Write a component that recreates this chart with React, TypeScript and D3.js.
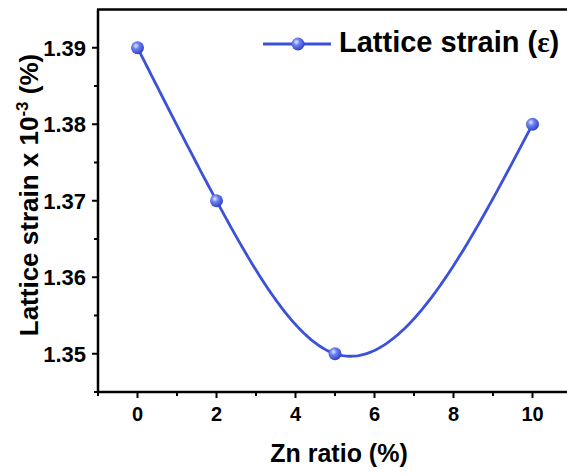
import React from "react";
import * as d3 from "d3";

const znRatio = [0, 2, 5, 10];
const strain = [1.39, 1.37, 1.35, 1.38];
const xTicks = [0, 2, 4, 6, 8, 10];
const yTicks = [1.35, 1.36, 1.37, 1.38, 1.39];
const seriesName = "Lattice strain (";

function naturalSpline(xs: number[], ys: number[]) {
  const n = xs.length;
  const h = xs.slice(1).map((x, i) => x - xs[i]);
  const a = new Array(n).fill(0), b = new Array(n).fill(0), c = new Array(n).fill(0), r = new Array(n).fill(0);
  b[0] = 1; b[n - 1] = 1;
  for (let i = 1; i < n - 1; i++) {
    a[i] = h[i - 1];
    b[i] = 2 * (h[i - 1] + h[i]);
    c[i] = h[i];
    r[i] = 6 * ((ys[i + 1] - ys[i]) / h[i] - (ys[i] - ys[i - 1]) / h[i - 1]);
  }
  const cp = new Array(n).fill(0), rp = new Array(n).fill(0);
  cp[0] = c[0] / b[0]; rp[0] = r[0] / b[0];
  for (let i = 1; i < n; i++) {
    const m = b[i] - a[i] * cp[i - 1];
    cp[i] = c[i] / m;
    rp[i] = (r[i] - a[i] * rp[i - 1]) / m;
  }
  const M = new Array(n).fill(0);
  M[n - 1] = rp[n - 1];
  for (let i = n - 2; i >= 0; i--) M[i] = rp[i] - cp[i] * M[i + 1];
  return (x: number) => {
    let i = 0;
    while (i < n - 2 && x > xs[i + 1]) i++;
    const hi = h[i];
    const t1 = xs[i + 1] - x, t2 = x - xs[i];
    return (M[i] * t1 ** 3 + M[i + 1] * t2 ** 3) / (6 * hi) +
      (ys[i] / hi - M[i] * hi / 6) * t1 + (ys[i + 1] / hi - M[i + 1] * hi / 6) * t2;
  };
}

export default function App() {
  const W = 567, H = 476;
  const left = 98, right = 572, top = 9.5, bottom = 392;
  const x = d3.scaleLinear().domain([-1, 11]).range([left, right]);
  const y = d3.scaleLinear().domain([1.345, 1.395]).range([bottom, top]);
  const f = naturalSpline(znRatio, strain);
  const samples = d3.range(0, 10.0001, 0.05).map((v) => [v, f(v)] as [number, number]);
  const line = d3.line<[number, number]>().x((d) => x(d[0])).y((d) => y(d[1]));
  const blue = "#3b51d9";
  const xMinor = d3.range(-1, 11, 1).filter((v) => !xTicks.includes(v));
  const yMinor = [1.345, 1.355, 1.365, 1.375, 1.385];
  const font = "Arial, 'Liberation Sans', sans-serif";

  const Marker = ({ cx, cy }: { cx: number; cy: number }) => (
    <circle cx={cx} cy={cy} r={6.5} fill="url(#ballGrad)" />
  );

  return (
    <svg width={W} height={H} style={{ position: "absolute", left: 0, top: 0 }} fontFamily={font}>
      <defs>
        <radialGradient id="ballGrad" cx="0.38" cy="0.35" r="0.7">
          <stop offset="0" stopColor="#e8ecff" />
          <stop offset="0.35" stopColor="#6f82f0" />
          <stop offset="1" stopColor="#2a3cc4" />
        </radialGradient>
      </defs>
      <rect width={W} height={H} fill="white" />
      <line x1={left} x2={left} y1={top} y2={bottom + 1} stroke="black" strokeWidth={2.5} />
      <line x1={left - 1} x2={right} y1={bottom} y2={bottom} stroke="black" strokeWidth={2.5} />
      <line x1={left - 1} x2={right} y1={top} y2={top} stroke="black" strokeWidth={2.5} />
      {xTicks.map((t) => (
        <g key={"xt" + t}>
          <line x1={x(t)} x2={x(t)} y1={bottom} y2={bottom + 6} stroke="black" strokeWidth={2} />
          <text x={x(t)} y={421} textAnchor="middle" fontSize={20} fontWeight="bold">{t}</text>
        </g>
      ))}
      {xMinor.map((t) => (
        <line key={"xm" + t} x1={x(t)} x2={x(t)} y1={bottom} y2={bottom + 4} stroke="black" strokeWidth={2} />
      ))}
      {yTicks.map((t) => (
        <g key={"yt" + t}>
          <line x1={left - 6} x2={left} y1={y(t)} y2={y(t)} stroke="black" strokeWidth={2} />
          <text x={86} y={y(t) + 8} textAnchor="end" fontSize={22} fontWeight="bold">{t.toFixed(2)}</text>
        </g>
      ))}
      {yMinor.map((t) => (
        <line key={"ym" + t} x1={left - 4} x2={left} y1={y(t)} y2={y(t)} stroke="black" strokeWidth={2} />
      ))}
      <path d={line(samples) || ""} fill="none" stroke={blue} strokeWidth={2.8} />
      {znRatio.map((v, i) => (
        <Marker key={"m" + i} cx={x(v)} cy={y(strain[i])} />
      ))}
      <line x1={263} x2={331} y1={44} y2={44} stroke={blue} strokeWidth={2.8} />
      <Marker cx={298} cy={44} />
      <text x={339} y={52} fontSize={29} fontWeight="bold">
        {seriesName}
        <tspan fontFamily="'Liberation Serif', 'Times New Roman', serif">ε</tspan>)
      </text>
      <text x={339} y={462} textAnchor="middle" fontSize={25} fontWeight="bold">Zn ratio (%)</text>
      <text transform="translate(38,195) rotate(-90)" textAnchor="middle" fontSize={26} fontWeight="bold">
        Lattice strain x 10<tspan dy={-10} fontSize={17}>-3</tspan><tspan dy={10}> (%)</tspan>
      </text>
    </svg>
  );
}
